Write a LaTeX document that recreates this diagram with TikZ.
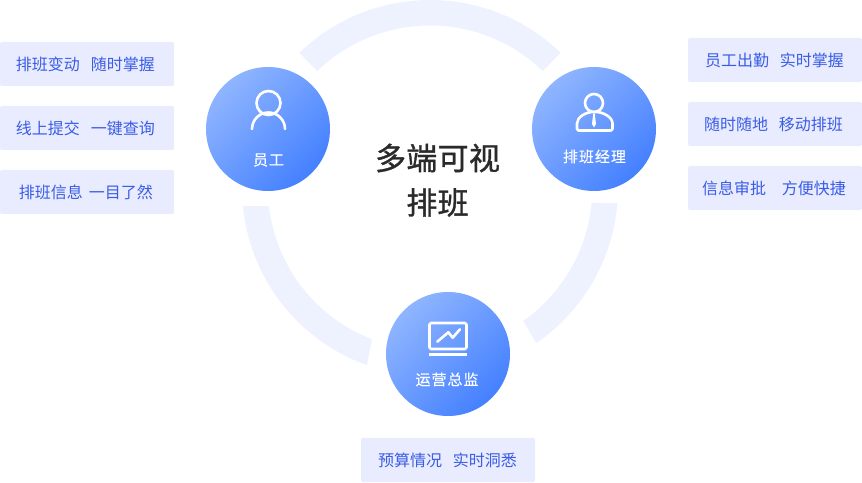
\documentclass[tikz,border=0pt]{standalone}
\usepackage{fontspec}
\usetikzlibrary{calc}
\setmainfont{Noto Sans CJK SC}
\newfontfamily\discfont[LetterSpace=6.5,FakeBold=0.2]{Noto Sans CJK SC}
\newfontfamily\titlefont[LetterSpace=1,FakeBold=1.1]{Noto Sans CJK SC}
\definecolor{ringc}{HTML}{EEF2FF}
\definecolor{boxc}{HTML}{E8ECFE}
\definecolor{boxt}{HTML}{3A5CE6}
\definecolor{gradA}{HTML}{8FB5FF}
\definecolor{gradB}{HTML}{4480FF}
\definecolor{titlec}{HTML}{2A2A2A}
\newcommand{\rowtext}[3]{\makebox[174pt][l]{\hspace{#1pt}#2\hspace{0pt}#3}}
\tikzset{
  x=1pt,y=1pt,
  tagbox/.style={fill=boxc,draw=none,rounded corners=2pt,minimum width=174pt,minimum height=44pt,inner sep=0pt,text=boxt,font=\fontsize{16}{20}\selectfont,text height=13.5pt,text depth=0pt},
  disc/.style={circle,minimum size=124pt,inner sep=0pt,draw=none,left color=gradA,right color=gradB,shading angle=45},
  disclabel/.style={text=white,font=\discfont\fontsize{15}{18}\selectfont,inner sep=0pt},
  titletext/.style={text=titlec,font=\titlefont\fontsize{31}{36}\selectfont,inner sep=0pt},
  icon/.style={draw=white,line width=2.6pt,line cap=round,line join=round},
  ringarc/.style={fill=ringc,draw=none},
}
\begin{document}
\begin{tikzpicture}
\useasboundingbox (0,0) rectangle (862,482);
% ring (centre 430,294)
\coordinate (ringc) at (430,294);
\fill[ringarc] ($(ringc)+(134:188)$) arc[start angle=134,end angle=46,radius=188] -- ($(ringc)+(46:162.5)$) arc[start angle=46,end angle=134,radius=162.5] -- cycle;
\fill[ringarc] ($(ringc)+(-4.6:188)$) arc[start angle=-4.6,end angle=-55.6,radius=188] -- ($(ringc)+(-55:162.3)$) arc[start angle=-55,end angle=-5.3,radius=162.3] -- cycle;
\fill[ringarc] ($(ringc)+(185.5:188)$) arc[start angle=185.5,end angle=250.4,radius=188] -- ($(ringc)+(249:162)$) arc[start angle=249,end angle=186.4,radius=162] -- cycle;
% discs
\node[disc] (staff) at (268,353) {};
\node[disc] (manager) at (594,353) {};
\node[disc] (director) at (448,128) {};
% staff icon
\draw[icon] (268.5,379) circle[radius=12];
\draw[icon] (252,353) arc[start angle=180,end angle=0,radius=16.5];
\node[disclabel] (stafflabel) at (268.5,322) {员工};
% manager icon
\draw[icon] (594,379) circle[radius=9];
\draw[icon,rounded corners=1.5pt] (577,351.5) -- (577,357) .. controls (577,365) and (586,370) .. (594.5,370) .. controls (603,370) and (612.5,365) .. (612.5,357) -- (612.5,351.5) -- cycle;
\fill[white] (593.2,368) -- (594.8,368) -- (596,358) -- (594,354.5) -- (592,358) -- cycle;
\node[disclabel] (managerlabel) at (594.5,325.5) {排班经理};
% director icon
\draw[icon,rounded corners=1.5pt,line cap=butt] (429.5,159) rectangle (466.5,133);
\draw[icon,line width=3pt,line cap=butt] (429,127) -- (467,127);
\draw[icon] (437.3,140.3) -- (448.3,149.7) -- (452.7,144.3) -- (460,152.7);
\node[disclabel] (directorlabel) at (447,102.5) {运营总监};
% centre title
\node[titletext] (title1) at (437.5,324) {多端可视};
\node[titletext] (title2) at (437.5,279.5) {排班};
% left boxes
\node[tagbox] (l1) at (87,418) {\rowtext{16}{排班变动\hspace{11pt}}{随时掌握}};
\node[tagbox] (l2) at (87,354) {\rowtext{16}{线上提交\hspace{11pt}}{一键查询}};
\node[tagbox] (l3) at (87,290) {\rowtext{19}{排班信息\hspace{6pt}}{一目了然}};
% right boxes
\node[tagbox] (r1) at (775,422) {\rowtext{17}{员工出勤\hspace{11pt}}{实时掌握}};
\node[tagbox] (r2) at (775,358) {\rowtext{16}{随时随地\hspace{11pt}}{移动排班}};
\node[tagbox] (r3) at (775,294) {\rowtext{14}{信息审批\hspace{16pt}}{方便快捷}};
% bottom box
\node[tagbox] (b1) at (448,22) {\rowtext{17}{预算情况\hspace{11pt}}{实时洞悉}};
\end{tikzpicture}
\end{document}
